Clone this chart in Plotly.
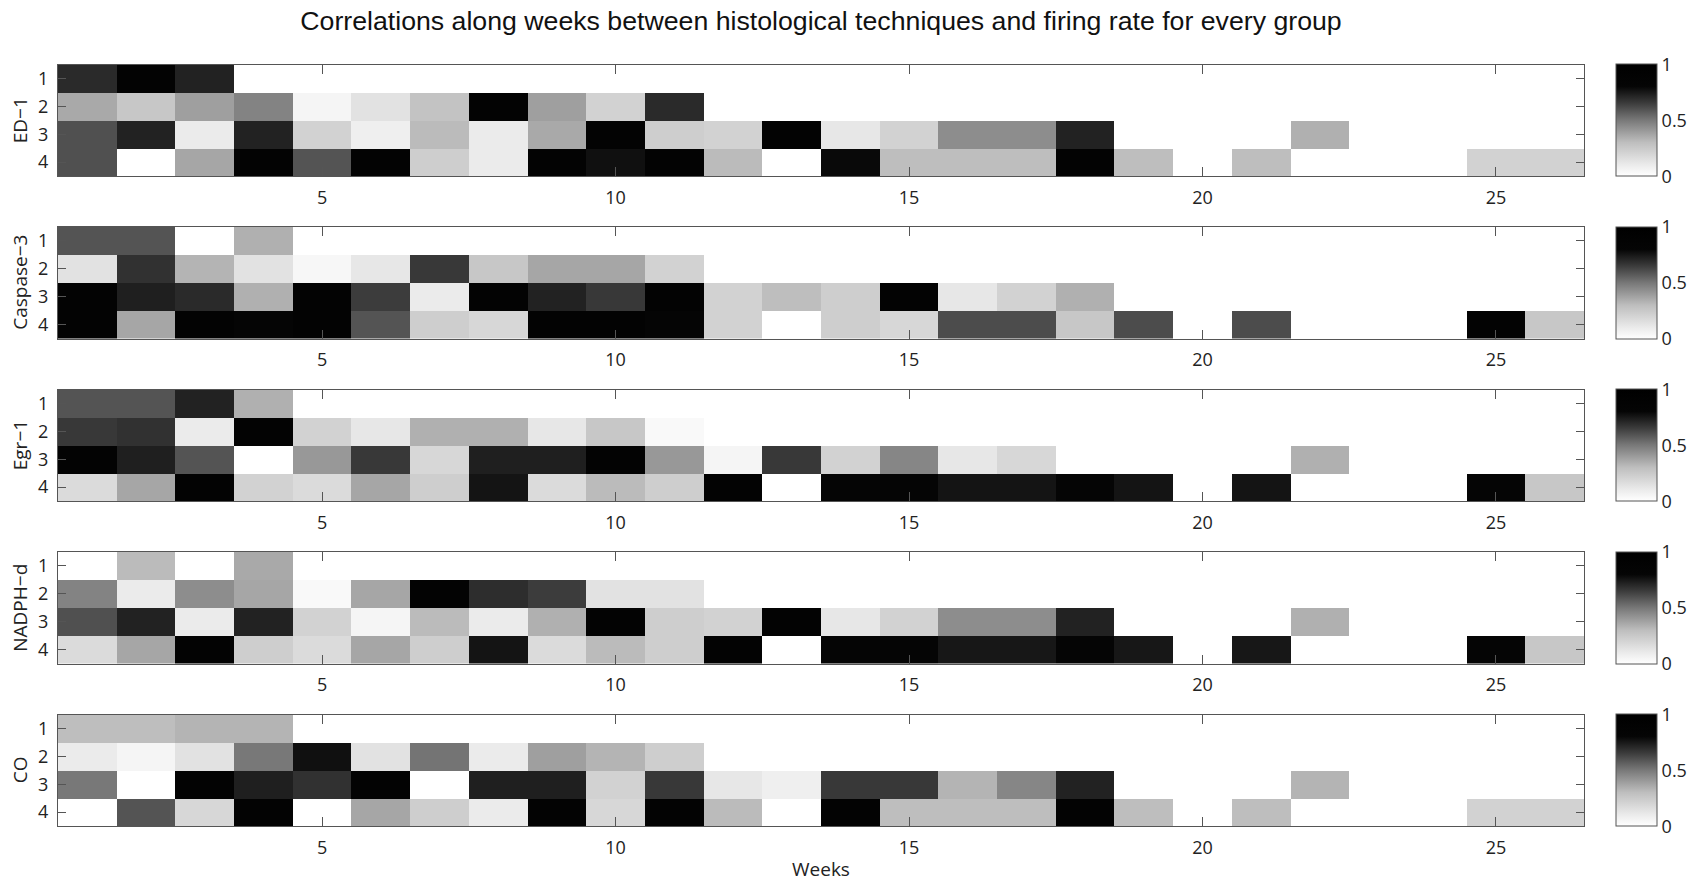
import plotly.graph_objects as go

W, H = 1701, 882
N = None

weeks = list(range(1, 27))
rows = [1, 2, 3, 4]
groups = ["ED\u22121", "Caspase\u22123", "Egr\u22121", "NADPH\u2212d", "CO"]

ed1 = [
    [0.70, 0.90, 0.72] + [N] * 23,
    [0.36, 0.26, 0.39, 0.47, 0.05, 0.14, 0.28, 0.90, 0.39, 0.21, 0.70] + [N] * 15,
    [0.60, 0.72, 0.10, 0.72, 0.21, 0.08, 0.31, 0.10, 0.36, 0.90, 0.23, 0.21, 0.90,
     0.12, 0.21, 0.44, 0.44, 0.72, N, N, N, 0.34, N, N, N, N],
    [0.60, 0.00, 0.37, 0.90, 0.59, 0.90, 0.23, 0.10, 0.90, 0.77, 0.90, 0.31, 0.00,
     0.79, 0.30, 0.30, 0.30, 0.90, 0.30, N, 0.30, N, N, N, 0.21, 0.21],
]

caspase3 = [
    [0.59, 0.59, 0.00, 0.34] + [N] * 22,
    [0.14, 0.68, 0.33, 0.14, 0.04, 0.12, 0.66, 0.26, 0.37, 0.37, 0.21] + [N] * 15,
    [0.90, 0.73, 0.70, 0.34, 0.90, 0.65, 0.10, 0.90, 0.72, 0.66, 0.90, 0.21, 0.30,
     0.23, 0.90, 0.12, 0.21, 0.34] + [N] * 8,
    [0.90, 0.37, 0.90, 0.80, 0.90, 0.59, 0.23, 0.19, 0.90, 0.90, 0.80, 0.21, 0.00,
     0.23, 0.19, 0.61, 0.61, 0.26, 0.61, N, 0.61, N, N, N, 0.90, 0.26],
]

egr1 = [
    [0.59, 0.59, 0.72, 0.34] + [N] * 22,
    [0.66, 0.68, 0.10, 0.90, 0.21, 0.12, 0.34, 0.34, 0.12, 0.26, 0.03] + [N] * 15,
    [0.90, 0.73, 0.59, 0.00, 0.41, 0.66, 0.19, 0.73, 0.73, 0.90, 0.41, 0.05, 0.66,
     0.21, 0.46, 0.12, 0.19, N, N, N, N, 0.34, N, N, N, N],
    [0.17, 0.37, 0.90, 0.21, 0.17, 0.37, 0.23, 0.76, 0.17, 0.31, 0.23, 0.90, 0.00,
     0.80, 0.80, 0.76, 0.76, 0.80, 0.76, N, 0.76, N, N, N, 0.80, 0.26],
]

nadphd = [
    [0.00, 0.31, 0.00, 0.36] + [N] * 22,
    [0.47, 0.10, 0.44, 0.37, 0.03, 0.37, 0.90, 0.69, 0.65, 0.14, 0.14] + [N] * 15,
    [0.60, 0.72, 0.10, 0.72, 0.21, 0.05, 0.31, 0.10, 0.34, 0.90, 0.23, 0.21, 0.90,
     0.12, 0.21, 0.44, 0.44, 0.72, N, N, N, 0.34, N, N, N, N],
    [0.17, 0.37, 0.90, 0.23, 0.17, 0.37, 0.23, 0.76, 0.17, 0.31, 0.23, 0.90, 0.00,
     0.80, 0.80, 0.75, 0.75, 0.80, 0.75, N, 0.75, N, N, N, 0.80, 0.26],
]

co = [
    [0.30, 0.30, 0.33, 0.33] + [N] * 22,
    [0.10, 0.05, 0.14, 0.50, 0.77, 0.14, 0.51, 0.10, 0.39, 0.33, 0.23] + [N] * 15,
    [0.50, 0.00, 0.90, 0.73, 0.68, 0.90, 0.00, 0.73, 0.73, 0.21, 0.66, 0.12, 0.08,
     0.66, 0.66, 0.33, 0.46, 0.72, N, N, N, 0.33, N, N, N, N],
    [0.00, 0.59, 0.19, 0.90, 0.00, 0.37, 0.23, 0.10, 0.90, 0.19, 0.90, 0.31, 0.00,
     0.90, 0.30, 0.30, 0.30, 0.90, 0.30, N, 0.30, N, N, N, 0.21, 0.21],
]

panels = [ed1, caspase3, egr1, nadphd, co]

# inverted gray map that saturates to black near 0.8
gray_scale = [
    [0.0, "rgb(255,255,255)"],
    [0.1, "rgb(235,235,235)"],
    [0.3, "rgb(190,190,190)"],
    [0.5, "rgb(120,120,120)"],
    [0.65, "rgb(60,60,60)"],
    [0.8, "rgb(5,5,5)"],
    [1.0, "rgb(0,0,0)"],
]

# panel geometry in pixels
x_left, x_right = 58, 1584
tops = [64.5, 227, 389.5, 552, 714.5]
ph = 111.5
cb_left = 1616

axis_font = dict(family="Open Sans", size=18, color="#222")
label_font = dict(family="Open Sans", size=19, color="#222")
line_col = "#555"

fig = go.Figure()

for i, (z, name) in enumerate(zip(panels, groups)):
    k = "" if i == 0 else str(i + 1)
    top, bot = tops[i], tops[i] + ph
    y0, y1 = 1 - bot / H, 1 - top / H
    fig.add_trace(go.Heatmap(
        x=weeks, y=rows, z=z,
        xaxis="x" + k, yaxis="y" + k,
        zmin=0, zmax=1, colorscale=gray_scale,
        hoverongaps=False,
        colorbar=dict(
            x=cb_left / W, xanchor="left", xpad=0,
            y=(y0 + y1) / 2, yanchor="middle", ypad=0,
            len=ph / H, lenmode="fraction", thickness=41,
            outlinewidth=1, outlinecolor=line_col,
            tickvals=[0, 0.5, 1], ticktext=["0", "0.5", "1"],
            ticks="", tickfont=axis_font,
        ),
    ))
    fig.layout["xaxis" + k] = dict(
        domain=[x_left / W, x_right / W], anchor="y" + k,
        range=[0.5, 26.5], tickvals=[5, 10, 15, 20, 25],
        ticks="inside", ticklen=9, tickcolor=line_col,
        showline=True, linecolor=line_col, linewidth=1, mirror="ticks",
        showgrid=False, zeroline=False, tickfont=axis_font,
        ticklabelstandoff=5,
    )
    fig.layout["yaxis" + k] = dict(
        domain=[y0, y1], anchor="x" + k,
        range=[4.5, 0.5], tickvals=rows,
        ticks="inside", ticklen=8, tickcolor=line_col,
        showline=True, linecolor=line_col, linewidth=1, mirror="ticks",
        showgrid=False, zeroline=False, tickfont=axis_font,
        ticklabelstandoff=5,
    )
    fig.add_annotation(
        x=20 / W, y=(y0 + y1) / 2, xref="paper", yref="paper",
        xanchor="center", yanchor="middle",
        text=name, textangle=-90, showarrow=False,
        font=label_font,
    )

fig.add_annotation(
    x=(x_left + x_right) / 2 / W, y=1 - 869 / H, xref="paper", yref="paper",
    xanchor="center", yanchor="middle",
    text="Weeks", showarrow=False,
    font=label_font,
)

fig.update_layout(
    width=W, height=H,
    margin=dict(l=0, r=0, t=0, b=0),
    paper_bgcolor="white", plot_bgcolor="white",
    title=dict(
        text="Correlations along weeks between histological techniques and firing rate for every group",
        x=(x_left + x_right) / 2 / W, xanchor="center",
        y=1 - 21 / H, yanchor="middle",
        font=dict(family="Liberation Sans", size=26.7, color="#111"),
    ),
    showlegend=False,
)

fig.write_html("out.html")
